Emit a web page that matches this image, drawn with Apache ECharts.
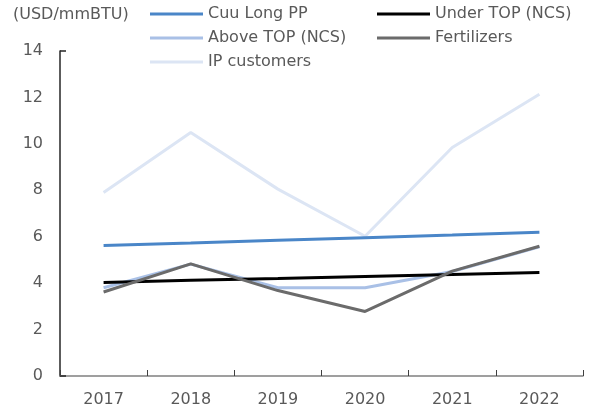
<!DOCTYPE html>
<html>
<head>
<meta charset="utf-8">
<script src="https://cdn.jsdelivr.net/npm/echarts@6/dist/echarts.min.js"></script>
<style>
  html, body { margin: 0; padding: 0; background: #fff; }
  #chart { width: 601px; height: 418px; }
</style>
</head>
<body>
<div id="chart"></div>
<script>
const years = ['2017', '2018', '2019', '2020', '2021', '2022'];
const cuuLong = [5.62, 5.73, 5.85, 5.96, 6.07, 6.19];
const underTop = [4.03, 4.12, 4.2, 4.29, 4.37, 4.46];
const aboveTop = [3.8, 4.82, 3.8, 3.8, 4.5, 5.57];
const fertilizers = [3.62, 4.83, 3.68, 2.78, 4.52, 5.59];
const ipCustomers = [7.9, 10.49, 8.05, 6.02, 9.84, 12.14];

const textColor = '#595959';
const font = 'DejaVu Sans';

const chart = echarts.init(document.getElementById('chart'));

function line(name, data, color, z) {
    return {
        name: name,
        type: 'line',
        data: data,
        symbol: 'none',
        lineStyle: { color: color, width: 3 },
        itemStyle: { color: color },
        z: z
    };
}

const legendText = { color: textColor, fontSize: 16, fontFamily: font, lineHeight: 24 };
const legendBase = {
    orient: 'vertical',
    top: 2,
    padding: 0,
    icon: 'rect',
    itemWidth: 53,
    itemHeight: 3,
    itemGap: 0,
    textStyle: legendText
};

chart.setOption({
    animation: false,
    title: {
        text: '(USD/mmBTU)',
        left: 8,
        top: 2,
        textStyle: { color: textColor, fontSize: 16, fontWeight: 'normal', fontFamily: font }
    },
    legend: [
        Object.assign({}, legendBase, {
            data: ['Cuu Long PP', 'Above TOP (NCS)', 'IP customers'],
            left: 150
        }),
        Object.assign({}, legendBase, {
            data: ['Under TOP (NCS)', 'Fertilizers'],
            left: 377
        })
    ],
    grid: { left: 60, right: 18, top: 51, bottom: 42, containLabel: false },
    xAxis: {
        type: 'category',
        data: years,
        boundaryGap: true,
        axisLine: { lineStyle: { color: '#808080', width: 1.5 } },
        axisTick: { show: true, inside: true, length: 6, alignWithLabel: false, lineStyle: { color: '#404040' } },
        axisLabel: { color: textColor, fontSize: 16, fontFamily: font, margin: 16 },
        splitLine: { show: false }
    },
    yAxis: [
        {
            type: 'value',
            min: 0,
            max: 14,
            interval: 2,
            axisLine: { show: true, lineStyle: { color: '#262626', width: 1.5 } },
            axisTick: { show: false },
            axisLabel: { color: textColor, fontSize: 16, fontFamily: font, margin: 17 },
            splitLine: { show: false }
        },
        {
            // end caps of the value axis
            type: 'value',
            position: 'left',
            min: 0,
            max: 14,
            interval: 14,
            axisLine: { show: false },
            axisTick: { show: true, inside: true, length: 6, lineStyle: { color: '#262626', width: 1.5 } },
            axisLabel: { show: false },
            splitLine: { show: false }
        }
    ],
    series: [
        line('Cuu Long PP', cuuLong, '#4a86c8', 5),
        line('Under TOP (NCS)', underTop, '#000000', 4),
        line('Above TOP (NCS)', aboveTop, '#a9c0e6', 3),
        line('Fertilizers', fertilizers, '#6b6b6b', 6),
        line('IP customers', ipCustomers, '#dce5f4', 2)
    ]
});
</script>
</body>
</html>
